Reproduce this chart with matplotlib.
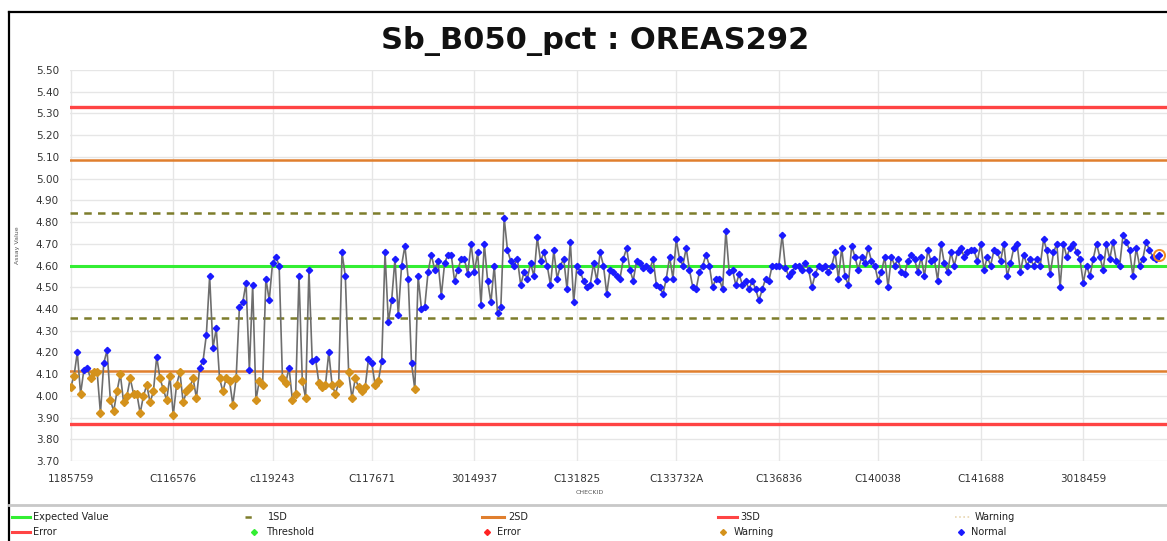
"""Sb_B050_pct 标准样 OREAS292 质控图（复刻）"""
import numpy as np
import matplotlib
matplotlib.use("Agg")
import matplotlib.pyplot as plt

plt.rcParams["font.family"] = ["DejaVu Sans"]

# ---------------- data ----------------
assay = [
    # 1185759 .. C116576
    4.04, 4.09, 4.20, 4.01, 4.12, 4.13, 4.08, 4.11, 4.11, 3.92,
    4.15, 4.21, 3.98, 3.93, 4.02, 4.10, 3.97, 4.00, 4.08, 4.01,
    4.01, 3.92, 4.00, 4.05, 3.97, 4.02, 4.18, 4.08, 4.03, 3.98,
    4.09, 3.91, 4.05, 4.11, 3.97, 4.02, 4.04, 4.08, 3.99, 4.13,
    4.16, 4.28, 4.55, 4.22, 4.31, 4.08, 4.02, 4.08, 4.07, 3.96,
    4.08, 4.41, 4.43, 4.52, 4.12,
    # c119243 .. C117671
    4.51, 3.98, 4.07, 4.05, 4.54, 4.44, 4.61, 4.64, 4.60, 4.08,
    4.06, 4.13, 3.98, 4.01, 4.55, 4.07, 3.99, 4.58, 4.16, 4.17,
    4.06, 4.04, 4.05, 4.20, 4.05, 4.01, 4.06, 4.66, 4.55, 4.11,
    3.99, 4.08, 4.04, 4.02, 4.04, 4.17, 4.15, 4.05, 4.07, 4.16,
    4.66, 4.34, 4.44, 4.63, 4.37, 4.60, 4.69, 4.54, 4.15, 4.03,
    4.55, 4.40, 4.41, 4.57, 4.65, 4.58, 4.62, 4.46, 4.61,
    # 3014937 .. C131825
    4.65, 4.65, 4.53, 4.58, 4.63, 4.63, 4.56, 4.70, 4.57, 4.66,
    4.42, 4.70, 4.53, 4.43, 4.60, 4.38, 4.41, 4.82, 4.67, 4.62,
    4.60, 4.63, 4.51, 4.57, 4.54, 4.61, 4.55, 4.73, 4.62, 4.66,
    4.60, 4.51, 4.67, 4.54, 4.60, 4.63, 4.49, 4.71, 4.43, 4.60,
    4.57, 4.53, 4.50, 4.51, 4.61, 4.53, 4.66, 4.60, 4.47, 4.58,
    # C133732A .. C136836
    4.57, 4.55, 4.54, 4.63, 4.68, 4.58, 4.53, 4.62, 4.61, 4.59,
    4.60, 4.58, 4.63, 4.51, 4.50, 4.47, 4.54, 4.64, 4.54, 4.72,
    4.63, 4.60, 4.68, 4.58, 4.50, 4.49, 4.57, 4.60, 4.65, 4.60,
    4.50, 4.54, 4.54, 4.49, 4.76, 4.57, 4.58, 4.51, 4.56, 4.51,
    4.53, 4.49, 4.53, 4.49, 4.44, 4.49, 4.54, 4.53, 4.60, 4.60,
    4.60, 4.74,
    # C140038 ..
    4.59, 4.55, 4.57, 4.60, 4.60, 4.58, 4.61, 4.58, 4.50, 4.56,
    4.60, 4.59, 4.60, 4.57, 4.60, 4.66, 4.54, 4.68, 4.55, 4.51,
    4.69, 4.64, 4.58, 4.64, 4.61, 4.68, 4.62, 4.60, 4.53, 4.57,
    4.64, 4.50, 4.64, 4.60, 4.63, 4.57, 4.56, 4.62, 4.65, 4.63,
    4.57, 4.64, 4.55, 4.67, 4.62, 4.63, 4.53, 4.70, 4.61, 4.57,
    4.66,
    # C141688 .. 3018459 ..
    4.60, 4.66, 4.68, 4.64, 4.66, 4.67, 4.67, 4.62, 4.70, 4.58,
    4.64, 4.60, 4.67, 4.66, 4.62, 4.70, 4.55, 4.61, 4.68, 4.70,
    4.57, 4.65, 4.60, 4.63, 4.60, 4.63, 4.60, 4.72, 4.67, 4.56,
    4.66, 4.70, 4.50, 4.70, 4.64, 4.68, 4.70, 4.66, 4.63, 4.52,
    4.60, 4.55, 4.63, 4.70, 4.64, 4.58, 4.70, 4.63, 4.71, 4.62,
    4.60, 4.74, 4.71, 4.67, 4.55, 4.68, 4.60, 4.63, 4.71, 4.67,
    4.64, 4.63, 4.65,
]
tick_labels = ["1185759", "C116576", "c119243", "C117671", "3014937", "C131825",
               "C133732A", "C136836", "C140038", "C141688", "3018459"]
tick_idx = [0, 31, 61, 91, 122, 153, 183, 214, 244, 275, 306]

expected = 4.60
sd = 0.243

# ---------------- figure ----------------
W, H = 1167, 541
fig = plt.figure(figsize=(W / 100, H / 100), dpi=100)

# 外框 / 图例分隔线
bg = fig.add_axes([0, 0, 1, 1])
bg.set_xlim(0, W); bg.set_ylim(H, 0); bg.axis("off")
bg.plot([9, W], [12, 12], color="black", lw=1.6)
bg.plot([9, 9], [12, H], color="black", lw=1.6)
bg.plot([9, W], [505, 505], color="#c8c8c8", lw=2)

ax = fig.add_axes([70 / W, 1 - 461 / H, (W - 70) / W, (461 - 70) / H])
x = np.arange(len(assay))
y = np.array(assay)

# 控制限
ax.axhline(expected, color="#33ee33", lw=2.2, zorder=2)
for k, col, ls, lw in [(1, "#7d7d2c", (0, (3, 2.5)), 1.8),
                       (2, "#e07f2e", "-", 1.8),
                       (3, "#ff4444", "-", 2.4)]:
    ax.axhline(expected + k * sd, color=col, ls=ls, lw=lw, zorder=2)
    ax.axhline(expected - k * sd, color=col, ls=ls, lw=lw, zorder=2)

ax.plot(x, y, color="#6e6e6e", lw=1.2, zorder=3)
warn = y < expected - 2 * sd
ax.plot(x[~warn], y[~warn], ls="none", marker="D", ms=3.2, color="#1a1aff",
        mec="#1a1aff", zorder=4)
ax.plot(x[warn], y[warn], ls="none", marker="D", ms=3.8, color="#d4921c",
        mec="#d4921c", zorder=4)
# 选中点
ax.plot([x[-1]], [y[-1]], ls="none", marker="o", ms=8, mfc="none",
        mec="#f08a24", mew=1.4, zorder=5, clip_on=False)

ax.set_ylim(3.70, 5.50)
ax.set_yticks(np.arange(3.70, 5.501, 0.10))
ax.set_yticklabels([f"{v:.2f}" for v in np.arange(3.70, 5.501, 0.10)])
ax.set_xlim(-0.2, 331.3)
ax.set_xticks(tick_idx)
ax.set_xticklabels(tick_labels)
ax.tick_params(length=0, labelsize=7.5, labelcolor="#333333")
ax.tick_params(axis="x", pad=9)
ax.tick_params(axis="y", pad=8)
ax.grid(True, color="#e6e6e6", lw=1)
ax.set_axisbelow(True)
for s in ax.spines.values():
    s.set_visible(False)

bg.text(18, 245, "Assay Value", fontsize=4.5, color="#555555", rotation=90,
        ha="center", va="center")
bg.text(590, 492, "CHECKID", fontsize=4.5, color="#555555",
        ha="center", va="center")

fig.text(595 / W, 1 - 41 / H, "Sb_B050_pct : OREAS292", ha="center", va="center",
         fontsize=22, fontweight="bold", color="#111111")

# ---------------- legend ----------------
fs = 7
r1, r2 = 517, 532
bg.plot([12, 30], [r1, r1], color="#33ee33", lw=2.2)
bg.text(33, r1, "Expected Value", fontsize=fs, va="center", color="#222222")
bg.plot([245, 256], [r1, r1], color="#7d7d2c", lw=1.8, ls=(0, (2.5, 2)))
bg.text(268, r1, "1SD", fontsize=fs, va="center", color="#222222")
bg.plot([482, 504], [r1, r1], color="#e07f2e", lw=2.2)
bg.text(508, r1, "2SD", fontsize=fs, va="center", color="#222222")
bg.plot([718, 737], [r1, r1], color="#ff4444", lw=2.2)
bg.text(740, r1, "3SD", fontsize=fs, va="center", color="#222222")
bg.plot([955, 971], [r1, r1], color="#e8d6b0", lw=1.2, ls=(0, (1, 1.5)))
bg.text(975, r1, "Warning", fontsize=fs, va="center", color="#222222")

bg.plot([12, 30], [r2, r2], color="#ff4444", lw=2.2)
bg.text(33, r2, "Error", fontsize=fs, va="center", color="#222222")
bg.plot([254], [r2], marker="D", ms=3, color="#33ee33", ls="none")
bg.text(266, r2, "Threshold", fontsize=fs, va="center", color="#222222")
bg.plot([487], [r2], marker="D", ms=3, color="#ff2222", ls="none")
bg.text(497, r2, "Error", fontsize=fs, va="center", color="#222222")
bg.plot([723], [r2], marker="D", ms=3, color="#d4921c", ls="none")
bg.text(734, r2, "Warning", fontsize=fs, va="center", color="#222222")
bg.plot([961], [r2], marker="D", ms=3, color="#1a1aff", ls="none")
bg.text(971, r2, "Normal", fontsize=fs, va="center", color="#222222")

fig.savefig("out.png", dpi=100)
